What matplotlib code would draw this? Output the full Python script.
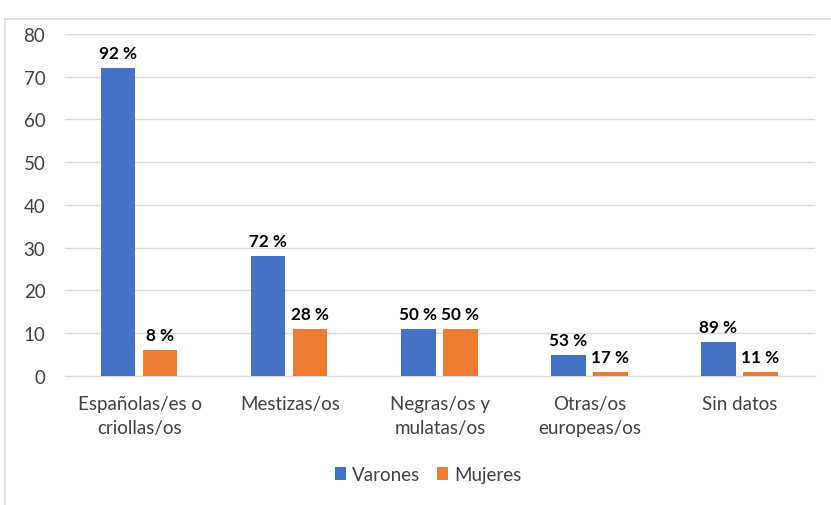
import matplotlib.pyplot as plt
import matplotlib.patches as patches
import numpy as np

# Data
categories = ['Españolas/es o\ncriollas/os', 'Mestizas/os', 'Negras/os y\nmulatas/os',
              'Otras/os\neuropeas/os', 'Sin datos']
varones = [72, 28, 11, 5, 8]
mujeres = [6, 11, 11, 1, 1]
varones_pct = ['92 %', '72 %', '50 %', '53 %', '89 %']
mujeres_pct = ['8 %', '28 %', '50 %', '17 %', '11 %']

plt.rcParams['font.family'] = ['Lato', 'DejaVu Sans']

fig = plt.figure(figsize=(8.31, 5.06), dpi=100)
ax = fig.add_axes([0.078, 0.255, 0.903, 0.676])

x = np.arange(len(categories))
w = 0.23
b1 = ax.bar(x - 0.145, varones, w, color='#4472C4', label='Varones', zorder=3)
b2 = ax.bar(x + 0.135, mujeres, w, color='#ED7D31', label='Mujeres', zorder=3)

# Percent labels above bars
for bars, labels in ((b1, varones_pct), (b2, mujeres_pct)):
    for bar, lab in zip(bars, labels):
        ax.annotate(lab, (bar.get_x() + bar.get_width() / 2, bar.get_height()),
                    xytext=(0, 5), textcoords='offset points',
                    ha='center', va='bottom', fontsize=12.3, fontweight='bold')

ax.set_xlim(-0.5, 4.5)
ax.set_ylim(0, 80)
ax.set_yticks(range(0, 81, 10))
ax.set_xticks(x)
ax.set_xticklabels(categories, linespacing=1.45)
ax.tick_params(axis='both', length=0, labelsize=13.5, colors='#404040')
ax.tick_params(axis='x', pad=14)
ax.tick_params(axis='y', pad=14)
ax.yaxis.grid(True, color='#d9d9d9', linewidth=1, zorder=0)
for s in ['top', 'right', 'left']:
    ax.spines[s].set_visible(False)
ax.spines['bottom'].set_color('#d9d9d9')

leg = fig.legend(loc='center', bbox_to_anchor=(0.515, 0.061), ncol=2, frameon=False,
                 fontsize=13.5, handlelength=0.6, handleheight=0.7,
                 handletextpad=0.3, columnspacing=0.9)
for t in leg.get_texts():
    t.set_color('#404040')

# outer chart frame (left and top edges visible)
fig.patches.append(patches.Rectangle((5 / 831, -0.05), 1.2, (496 - 10) / 506 + 0.05,
                                     transform=fig.transFigure, fill=False,
                                     edgecolor='#d9d9d9', linewidth=1.2))

fig.savefig('out.png', dpi=100)
